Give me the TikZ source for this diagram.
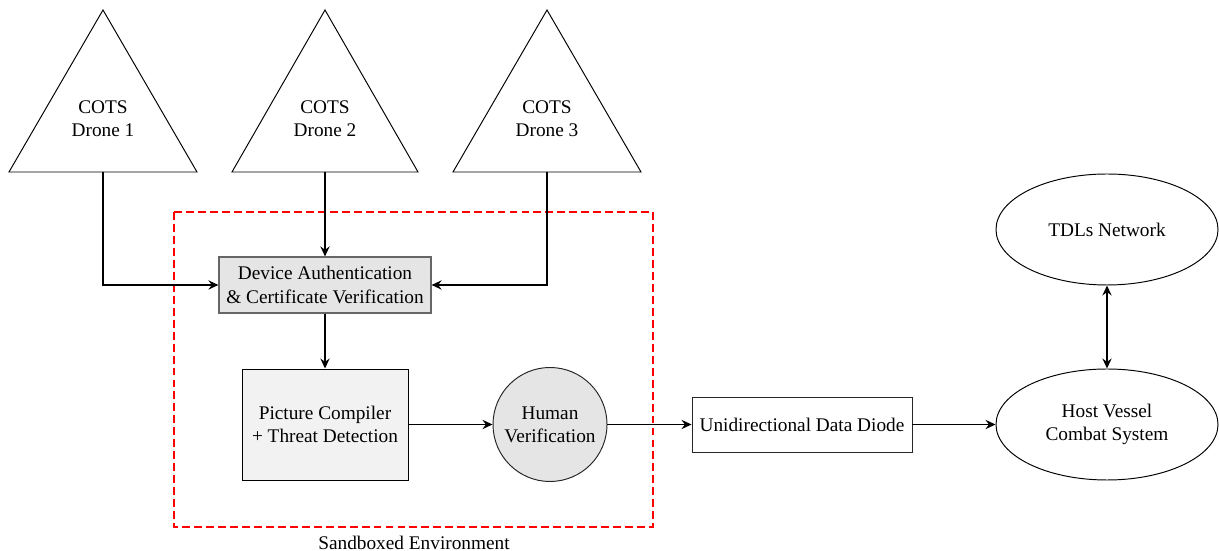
\documentclass[tikz,border=0pt]{standalone}
\usepackage{fontspec}
\setmainfont{Liberation Serif}
\usetikzlibrary{shapes.geometric,arrows.meta}
\newcommand\pxu{0.5181pt}
\tikzset{
  every node/.style={font=\fontsize{10pt}{12pt}\selectfont, align=center, text=black},
  tip/.tip={Stealth[length=5.2pt,width=4.8pt,inset=1.8pt]},
  conn/.style={thick, -tip},
  biconn/.style={thick, tip-tip},
  tri/.style={draw=black, line width=0.5pt, line join=miter},
  authbox/.style={rectangle, draw=black!60, line width=0.6pt, fill=black!10, minimum width=212*\pxu, minimum height=56*\pxu, inner sep=2pt},
  picbox/.style={rectangle, draw=black, line width=0.5pt, fill=black!5, minimum width=166*\pxu, minimum height=111*\pxu},
  humancirc/.style={circle, draw=black!85, line width=0.5pt, fill=black!10, minimum size=114*\pxu, inner sep=0pt},
  diodebox/.style={rectangle, draw=black!85, line width=0.5pt, fill=white, minimum width=220*\pxu, minimum height=55*\pxu},
  ell/.style={ellipse, draw=black, line width=0.5pt, minimum width=222*\pxu, minimum height=111*\pxu, inner sep=0pt},
  sandbox/.style={draw=red, thick, dash pattern=on 4.1pt off 2.1pt},
}
\begin{document}
\begin{tikzpicture}[x=0.5181pt, y=-0.5181pt]
\useasboundingbox (0,0) rectangle (1219,551);

% sandbox
\draw[sandbox] (174,212) rectangle (653,527);
\node (sblabel) at (414,543) {Sandboxed Environment};

% drones
\draw[tri] (103,10) -- (197,172) -- (9,172) -- cycle;
\draw[tri] (325,10) -- (418,172) -- (232,172) -- cycle;
\draw[tri] (547,10) -- (641,172) -- (453,172) -- cycle;
\node (d1) at (103,119) {COTS\\Drone 1};
\node (d2) at (325,119) {COTS\\Drone 2};
\node (d3) at (547,119) {COTS\\Drone 3};
\coordinate (d1b) at (103,172);
\coordinate (d2b) at (325,172);
\coordinate (d3b) at (547,172);

% nodes
\node[authbox] (auth) at (325,285) {Device Authentication\\\& Certificate Verification};
\node[picbox] (pic) at (325,424.5) {Picture Compiler\\+ Threat Detection};
\node[humancirc] (human) at (550,424.5) {Human\\Verification};
\node[diodebox] (diode) at (802,424.5) {Unidirectional Data Diode};
\node[ell] (tdl) at (1107,229.5) {TDLs Network};
\node[ell] (host) at (1107,424.5) {Host Vessel\\Combat System};

% connectors
\draw[conn] (d1b) |- (auth.west);
\draw[conn] (d2b) -- (auth.north);
\draw[conn] (d3b) |- (auth.east);
\draw[conn] (auth.south) -- (pic.north);
\draw[conn] (pic.east) -- (human.west);
\draw[conn] (human.east) -- (diode.west);
\draw[conn] (diode.east) -- (host.west);
\draw[biconn] (tdl.south) -- (host.north);
\end{tikzpicture}
\end{document}
